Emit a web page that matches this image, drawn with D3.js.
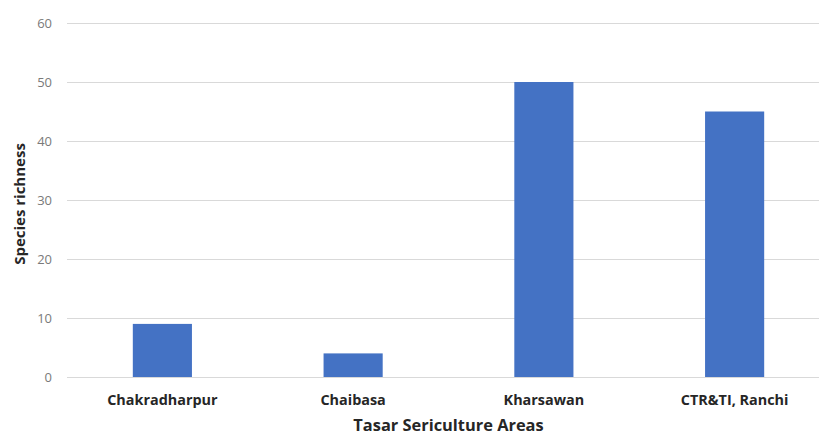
<!DOCTYPE html>
<html>
<head>
<meta charset="utf-8">
<script src="https://cdn.jsdelivr.net/npm/d3@7"></script>
<style>
  html, body { margin: 0; padding: 0; background: #ffffff; }
  svg { display: block; }
</style>
</head>
<body>
<div id="chart"></div>
<script>
// Species richness per tasar sericulture area
const categories = ["Chakradharpur", "Chaibasa", "Kharsawan", "CTR&TI, Ranchi"];
const richness = [9, 4, 50, 45];
const yTicks = [0, 10, 20, 30, 40, 50, 60];

const width = 819, height = 437;
const plot = { left: 67, right: 830, top: 23, bottom: 377 };
const fontFamily = "'Open Sans', 'Liberation Sans', sans-serif";

const svg = d3.select("#chart").append("svg")
  .attr("width", width)
  .attr("height", height);

const x = d3.scaleBand()
  .domain(categories)
  .range([plot.left, plot.right])
  .paddingInner(0.69)
  .paddingOuter(0.345);

const y = d3.scaleLinear()
  .domain([0, 60])
  .range([plot.bottom, plot.top]);

// Horizontal gridlines with value labels
const yAxis = d3.axisLeft(y)
  .tickValues(yTicks)
  .tickSize(-(plot.right - plot.left))
  .tickPadding(15)
  .tickFormat(d3.format("d"));

const gy = svg.append("g")
  .attr("transform", `translate(${plot.left},0)`)
  .call(yAxis);
gy.select(".domain").remove();
gy.selectAll(".tick line")
  .attr("stroke", "#d9d9d9")
  .attr("stroke-width", 1.2);
gy.selectAll(".tick text")
  .attr("fill", "#7a7a7a")
  .style("font-family", fontFamily)
  .style("font-size", "13px");

// Bars
svg.append("g")
  .selectAll("rect")
  .data(categories.map((c, i) => ({ c, v: richness[i] })))
  .join("rect")
  .attr("x", d => x(d.c))
  .attr("width", x.bandwidth())
  .attr("y", d => y(d.v))
  .attr("height", d => y(0) - y(d.v))
  .attr("fill", "#4472c4");

// Category axis labels
const xAxis = d3.axisBottom(x).tickSize(0).tickPadding(18);
const gx = svg.append("g")
  .attr("transform", `translate(0,${plot.bottom})`)
  .call(xAxis);
gx.select(".domain").remove();
gx.selectAll(".tick text")
  .attr("fill", "#262626")
  .style("font-family", fontFamily)
  .style("font-weight", "700")
  .style("font-size", "14.4px");

// Axis titles
svg.append("text")
  .attr("x", (plot.left + plot.right) / 2)
  .attr("y", 431)
  .attr("text-anchor", "middle")
  .attr("fill", "#262626")
  .style("font-family", fontFamily)
  .style("font-weight", "700")
  .style("font-size", "16.4px")
  .text("Tasar Sericulture Areas");

svg.append("text")
  .attr("transform", `translate(25,${(plot.top + plot.bottom) / 2 + 4}) rotate(-90)`)
  .attr("text-anchor", "middle")
  .attr("fill", "#262626")
  .style("font-family", fontFamily)
  .style("font-weight", "700")
  .style("font-size", "15px")
  .text("Species richness");
</script>
</body>
</html>
